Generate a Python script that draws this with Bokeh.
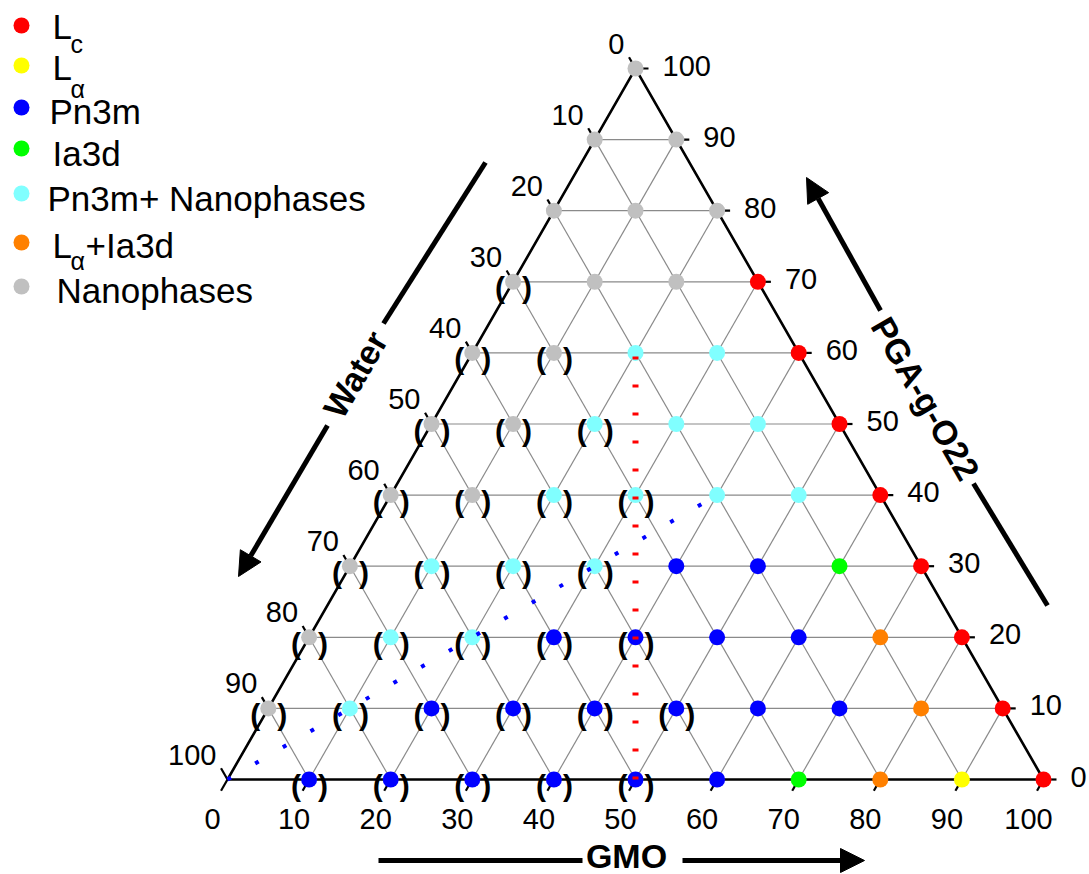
import numpy as np
from bokeh.plotting import figure
from bokeh.models import Range1d, Arrow, NormalHead
from bokeh.core.properties import value
from bokeh.embed import file_html
from bokeh.resources import INLINE

# ---------------------------------------------------------------------------
# Phase data: compositions as (GMO wt%, PGA-g-O22 wt%); water = 100 - GMO - PGA
# ---------------------------------------------------------------------------
lc_gmo = [30, 40, 50, 60, 70, 80, 90, 100]
lc_pga = [70, 60, 50, 40, 30, 20, 10, 0]

la_gmo = [90]
la_pga = [0]

pn3m_gmo = [40, 50, 30, 40, 50, 60, 20, 30, 40, 50, 60, 70, 10, 20, 30, 40, 50, 60]
pn3m_pga = [30, 30, 20, 20, 20, 20, 10, 10, 10, 10, 10, 10, 0, 0, 0, 0, 0, 0]

ia3d_gmo = [60, 70]
ia3d_pga = [30, 0]

pn3m_nano_gmo = [20, 30, 20, 30, 40, 20, 30, 40, 50, 10, 20, 30, 10, 20, 10]
pn3m_nano_pga = [60, 60, 50, 50, 50, 40, 40, 40, 40, 30, 30, 30, 20, 20, 10]

la_ia3d_gmo = [70, 80, 80]
la_ia3d_pga = [20, 10, 0]

nano_gmo = [0, 0, 10, 0, 10, 20, 0, 10, 20, 0, 10, 0, 10, 0, 10, 0, 0, 0]
nano_pga = [100, 90, 90, 80, 80, 80, 70, 70, 70, 60, 60, 50, 50, 40, 40, 30, 20, 10]

# samples marked with brackets
paren_gmo = [0, 0, 10, 0, 10, 20, 0, 10, 20, 30, 0, 10, 20, 30,
             0, 10, 20, 30, 40, 0, 10, 20, 30, 40, 50, 10, 20, 30, 40, 50]
paren_pga = [70, 60, 60, 50, 50, 50, 40, 40, 40, 40, 30, 30, 30, 30,
             20, 20, 20, 20, 20, 10, 10, 10, 10, 10, 10, 0, 0, 0, 0, 0]

# dotted guide lines (GMO, PGA end points)
red_line_gmo = [50, 20]
red_line_pga = [0, 60]
blue_line_gmo = [0, 40]
blue_line_pga = [0, 40]

tick_values = [0, 10, 20, 30, 40, 50, 60, 70, 80, 90, 100]
grid_values = [10, 20, 30, 40, 50, 60, 70, 80, 90]

phases = [
    ("L", "c", lc_gmo, lc_pga, "#ff0000"),
    ("L", "\u03b1", la_gmo, la_pga, "#ffff00"),
    ("Pn3m", "", pn3m_gmo, pn3m_pga, "#0000ff"),
    ("Ia3d", "", ia3d_gmo, ia3d_pga, "#00ff00"),
    ("Pn3m+ Nanophases", "", pn3m_nano_gmo, pn3m_nano_pga, "#80ffff"),
    ("L", "\u03b1+Ia3d", la_ia3d_gmo, la_ia3d_pga, "#ff8000"),
    ("Nanophases", "", nano_gmo, nano_pga, "#c0c0c0"),
]

# ---------------------------------------------------------------------------
# Canvas geometry: X = GMO + PGA/2, Y = PGA, with pixel scale helpers
# ---------------------------------------------------------------------------
W, H = 1089, 874
SX, SY = 8.16, 7.11          # pixels per data unit
OX, OY = 227, 779            # pixel position of the (0, 0) corner


def tx(g, p):
    return np.asarray(g, float) + np.asarray(p, float) / 2.0


def ty(p):
    return np.asarray(p, float)


def px_x(xp):
    return (xp - OX) / SX


def px_y(yp):
    return (OY - yp) / SY


FONT = value("Liberation Sans")
TICK_SIZE = value("29px")

p = figure(width=W, height=H, output_backend="svg", toolbar_location=None,
           x_range=Range1d(px_x(0), px_x(W)), y_range=Range1d(px_y(H), px_y(0)),
           x_axis_location=None, y_axis_location=None, min_border=0,
           background_fill_color="white", border_fill_color="white")
p.outline_line_color = None
p.grid.visible = False

# grid lines
gx, gy = [], []
for k in grid_values:
    # constant PGA
    gx.append([k / 2, 100 - k / 2]); gy.append([k, k])
    # constant GMO
    gx.append([k, k + (100 - k) / 2]); gy.append([0, 100 - k])
    # constant water
    gx.append([100 - k, (100 - k) / 2]); gy.append([0, 100 - k])
p.multi_line(gx, gy, line_color="#8a8a8a", line_width=1.2)

# triangle frame
p.line([0, 100, 50, 0], [0, 0, 100, 0], line_color="black", line_width=2.6,
       line_join="miter")

# ticks
tick_px = 13
t_s = tick_px / np.hypot(SX / 2, SY)
sx0, sy0, sx1, sy1 = [], [], [], []
for v in tick_values:
    # GMO (bottom)
    sx0.append(v); sy0.append(0); sx1.append(v - t_s / 2); sy1.append(-t_s)
    # PGA (right)
    sx0.append(100 - v / 2); sy0.append(v); sx1.append(100 - v / 2 + tick_px / SX); sy1.append(v)
    # Water (left)
    sx0.append((100 - v) / 2); sy0.append(100 - v)
    sx1.append((100 - v) / 2 - t_s / 2); sy1.append(100 - v + t_s)
p.segment(sx0, sy0, sx1, sy1, line_color="black", line_width=2.2)

tick_labels = [str(v) for v in tick_values]
# bottom labels
p.text([v - 15 / SX for v in tick_values], [px_y(818)] * len(tick_values), text=tick_labels,
       text_font=FONT, text_font_size=TICK_SIZE, text_align="center",
       text_baseline="middle", text_color="black")
# right labels
p.text([100 - v / 2 + 27 / SX for v in tick_values], [v + 3 / SY for v in tick_values],
       text=tick_labels, text_font=FONT, text_font_size=TICK_SIZE,
       text_align="left", text_baseline="middle", text_color="black")
# left labels
p.text([(100 - v) / 2 - 11 / SX for v in tick_values], [100 - v + 25 / SY for v in tick_values],
       text=tick_labels, text_font=FONT, text_font_size=TICK_SIZE,
       text_align="right", text_baseline="middle", text_color="black")

# phase points
for base, sub, g, pg, col in phases:
    p.scatter(tx(g, pg), ty(pg), size=16, fill_color=col, line_color=None)

# brackets around marked samples
bx, by = tx(paren_gmo, paren_pga), ty(paren_pga)
p.text(bx - 13 / SX, by - 6 / SY, text=["("] * len(bx), text_font=FONT,
       text_font_size=value("30px"), text_font_style="bold", text_align="center",
       text_baseline="middle", text_color="black")
p.text(bx + 14 / SX, by - 6 / SY, text=[")"] * len(bx), text_font=FONT,
       text_font_size=value("30px"), text_font_style="bold", text_align="center",
       text_baseline="middle", text_color="black")

# dotted guide lines
p.line(tx(red_line_gmo, red_line_pga), ty(red_line_pga), line_color="#ff0000",
       line_width=6, line_dash="3 25")
p.line(tx(blue_line_gmo, blue_line_pga), ty(blue_line_pga), line_color="#0000ff",
       line_width=4, line_dash="4 28")


# axis titles with arrows
def seg(x0, y0, x1, y1):
    p.segment([px_x(x0)], [px_y(y0)], [px_x(x1)], [px_y(y1)], line_color="black",
              line_width=5)


def arrow(x0, y0, x1, y1):
    p.add_layout(Arrow(end=NormalHead(size=24, fill_color="black", line_color="black"),
                       x_start=px_x(x0), y_start=px_y(y0), x_end=px_x(x1), y_end=px_y(y1),
                       line_width=5, line_color="black"))


TITLE_SIZE = value("34px")
# Water
seg(485, 162, 383, 323)
arrow(327, 425, 238, 576)
p.text([px_x(355)], [px_y(374)], text=["Water"], angle=np.pi / 3, text_font=FONT,
       text_font_size=TITLE_SIZE, text_font_style="bold", text_align="center",
       text_baseline="middle", text_color="black")
# PGA-g-O22
arrow(880, 310, 806, 177)
seg(973, 483, 1047, 605)
p.text([px_x(925)], [px_y(398)], text=["PGA-g-O22"], angle=-np.pi / 3, text_font=FONT,
       text_font_size=TITLE_SIZE, text_font_style="bold", text_align="center",
       text_baseline="middle", text_color="black")
# GMO
seg(378, 860, 582, 860)
arrow(682, 860, 864, 860)
p.text([px_x(626)], [px_y(855)], text=["GMO"], text_font=FONT,
       text_font_size=TITLE_SIZE, text_font_style="bold", text_align="center",
       text_baseline="middle", text_color="black")

# legend
leg_marker_y = [25, 65, 107, 148, 193, 242, 286]
leg_text_mid = [26, 67, 111, 153, 198, 245, 290]
leg_sub_mid = [43, 88, None, None, None, 260, None]
leg_text_x = [52, 52, 49, 52, 47, 52, 56]
for (base, sub, g, pg, col), my, tm, sm, tx_ in zip(phases, leg_marker_y, leg_text_mid,
                                                   leg_sub_mid, leg_text_x):
    p.scatter([px_x(21)], [px_y(my)], size=16, fill_color=col, line_color=None)
    p.text([px_x(tx_)], [px_y(tm)], text=[base], text_font=FONT,
           text_font_size=value("35px"), text_align="left", text_baseline="middle",
           text_color="black")
    if sub:
        p.text([px_x(70)], [px_y(sm)], text=[sub[0]], text_font=FONT,
               text_font_size=value("25px"), text_align="left", text_baseline="middle",
               text_color="black")
        if sub[1:]:
            p.text([px_x(85)], [px_y(tm)], text=[sub[1:]], text_font=FONT,
                   text_font_size=value("35px"), text_align="left",
                   text_baseline="middle", text_color="black")

open("out.html", "w").write(file_html(p, INLINE))
